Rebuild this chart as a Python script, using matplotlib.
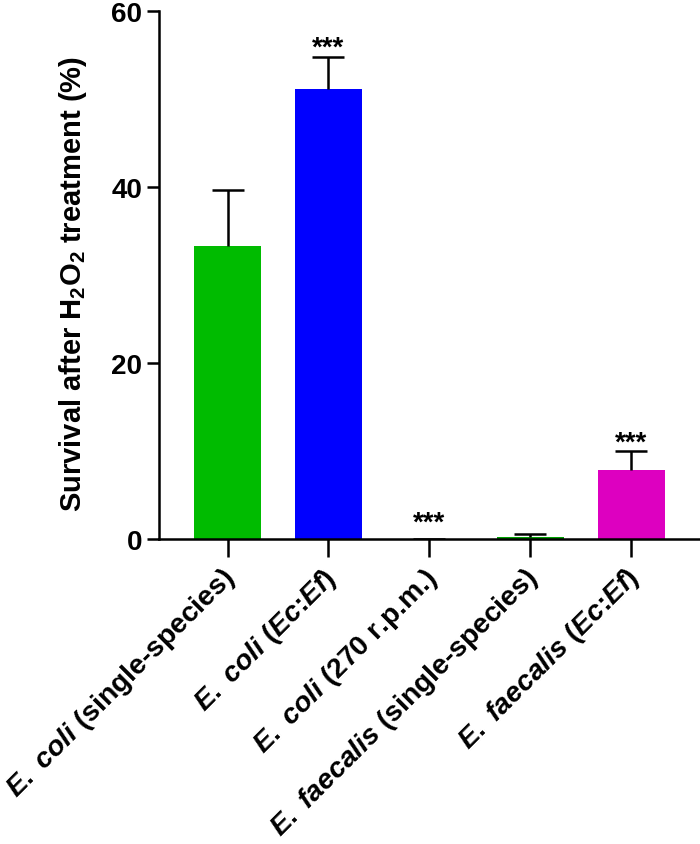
import matplotlib
matplotlib.use("Agg")
import matplotlib.pyplot as plt
import matplotlib.transforms as mtransforms
import numpy as np

plt.rcParams['font.family'] = ['Liberation Sans', 'DejaVu Sans']
plt.rcParams['font.weight'] = 'bold'
plt.rcParams['mathtext.fontset'] = 'custom'
plt.rcParams['mathtext.rm'] = 'Liberation Sans:bold'
plt.rcParams['mathtext.it'] = 'Liberation Sans:italic:bold'
plt.rcParams['mathtext.bf'] = 'Liberation Sans:bold'
plt.rcParams['mathtext.default'] = 'rm'

categories = [r'$\mathit{E.}$ $\mathit{coli}$ (single-species)',
              r'$\mathit{E.}$ $\mathit{coli}$ ($\mathit{Ec}$:$\mathit{Ef}$)',
              r'$\mathit{E.}$ $\mathit{coli}$ (270 r.p.m.)',
              r'$\mathit{E.}$ $\mathit{faecalis}$ (single-species)',
              r'$\mathit{E.}$ $\mathit{faecalis}$ ($\mathit{Ec}$:$\mathit{Ef}$)']
means = [33.3, 51.1, 0.0, 0.2, 7.8]
errors = [6.3, 3.7, 0.0, 0.4, 2.2]
colors = ['#00BB00', '#0000FF', '#0000FF', '#00A000', '#DD00C0']
significance = ['', '***', '***', '', '***']
y_ticks = [0, 20, 40, 60]

fig = plt.figure(figsize=(7.0, 8.45), dpi=100)
ax = fig.add_axes([0.227, 0.361, 0.773, 0.625])

x = np.arange(len(categories))
ax.bar(x, means, width=0.67, color=colors, edgecolor='none', zorder=2)
eb = ax.errorbar(x, means, yerr=[np.zeros(len(errors)), errors], fmt='none',
                 ecolor='black', elinewidth=1.8, capsize=11.5, capthick=1.8, zorder=3)
caplines = eb[1]
if len(caplines) == 2:
    caplines[0].set_visible(False)

for xi, m, e, s in zip(x, means, errors, significance):
    if s:
        top = max(m + e, 0.8)
        ax.text(xi, top + 1.0, s, ha='center', va='center', fontsize=20,
                fontweight='bold', zorder=4)

ax.set_xlim(-0.68, 4.68)
ax.set_ylim(0, 60)
for sp in ['top', 'right']:
    ax.spines[sp].set_visible(False)
for sp in ['left', 'bottom']:
    ax.spines[sp].set_linewidth(1.8)

ax.set_yticks(y_ticks)
ax.set_yticklabels([str(t) for t in y_ticks])
ax.set_xticks(x)
ax.set_xticklabels(categories, rotation=45, ha='right', rotation_mode='anchor')
ax.tick_params(axis='y', length=9, width=1.8, pad=3, labelsize=20)
ax.tick_params(axis='x', length=13, width=1.8, pad=4, labelsize=20.3)
shift = mtransforms.ScaledTranslation(-7 / 100, 0 / 100, fig.dpi_scale_trans)
for lab in ax.get_xticklabels():
    lab.set_fontweight('bold')
    lab.set_transform(lab.get_transform() + shift)
for lab in ax.get_yticklabels():
    lab.set_fontweight('bold')

ax.set_ylabel(r'Survival after H$_2$O$_2$ treatment (%)', fontsize=21,
              fontweight='bold')
ax.yaxis.set_label_coords(-0.130, 0.484)

fig.savefig('out.png', dpi=100)
